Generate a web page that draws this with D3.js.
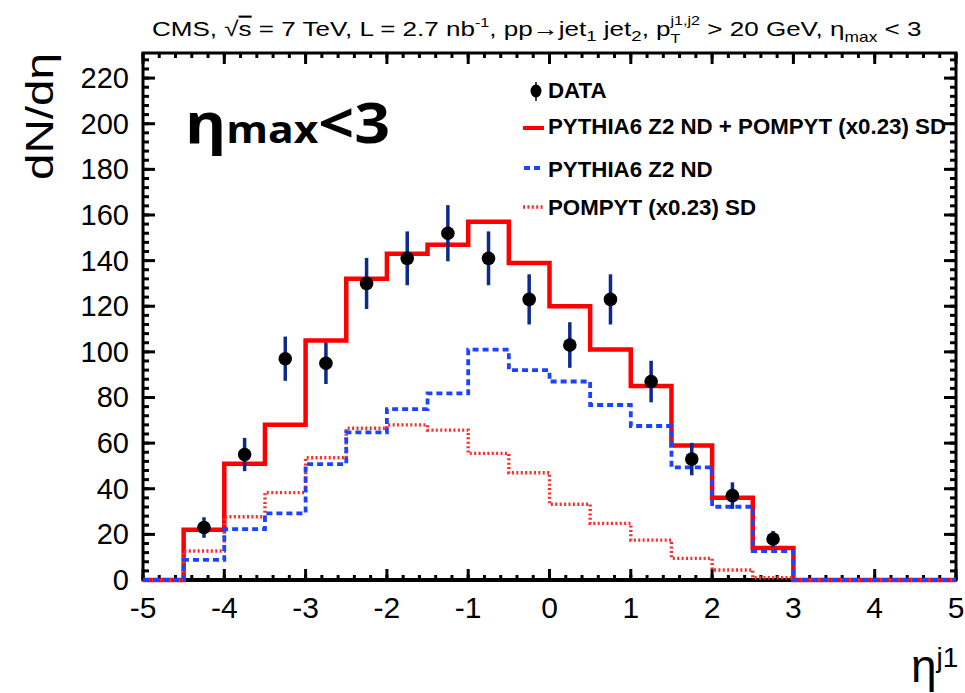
<!DOCTYPE html>
<html><head><meta charset="utf-8">
<script src="https://cdn.jsdelivr.net/npm/d3@7"></script>
<style>body{margin:0;background:#fff}svg{display:block}</style>
</head><body>
<svg id="c" width="965" height="693"></svg>
<script>
// ---- data ----
const binEdges = [-5,-4.5,-4,-3.5,-3,-2.5,-2,-1.5,-1,-0.5,0,0.5,1,1.5,2,2.5,3,3.5,4,4.5,5];
const totalVals = [0,22,51,68,105,132,143,147,157,139,120,101,85,59,36,14,0,0,0,0];
const ndVals    = [0,8.8,22.3,29.2,50.8,64.7,74.9,81.8,101,92,87,76.7,67.5,49.4,32.1,12.7,0,0,0,0];
const sdVals    = [0,12.7,27.7,38.3,53.6,66.5,68,65.7,55.5,47,33.2,24.8,17.5,9.5,4.4,1,0,0,0,0];
const dataEta   = [-4.25,-3.75,-3.25,-2.75,-2.25,-1.75,-1.25,-0.75,-0.25,0.25,0.75,1.25,1.75,2.25,2.75];
const dataVals  = [23,55,97,95,130,141,152,141,123,103,123,87,53,37,18];
const dataErrs  = [4.5,7.3,9.7,9.1,11.2,11.8,12.3,11.8,11,10,11,9.1,7.1,5.8,3.5];
const xTicks = [-5,-4,-3,-2,-1,0,1,2,3,4,5];
const yTicks = [0,20,40,60,80,100,120,140,160,180,200,220];
const legendLabels = ["DATA","PYTHIA6 Z2 ND + POMPYT (x0.23) SD","PYTHIA6 Z2 ND","POMPYT (x0.23) SD"];

const svg = d3.select("#c");
const L=143, R=956, T=53, B=580;
const x = d3.scaleLinear().domain([-5,5]).range([L,R]);
const y = d3.scaleLinear().domain([0,231]).range([B,T]);
const FONT = "'Liberation Sans', Arial, Helvetica, sans-serif";

// ---- frame & ticks (ROOT style, inward) ----
const g = svg.append("g");
const minorX = d3.range(-50,51,2).map(d=>d/10);
const minorY = d3.range(0,231,4);
function ticks(vals, len){
  vals.forEach(v=>{
    const xx=x(v);
    g.append("line").attr("x1",xx).attr("x2",xx).attr("y1",B).attr("y2",B-len).attr("stroke","#000").attr("stroke-width",3);
    g.append("line").attr("x1",xx).attr("x2",xx).attr("y1",T).attr("y2",T+len).attr("stroke","#000").attr("stroke-width",3);
  });
}
ticks(minorX,5);
ticks(xTicks,11);
function yt(vals,len){
  vals.forEach(v=>{
    const yy=y(v);
    g.append("line").attr("x1",L).attr("x2",L+len).attr("y1",yy).attr("y2",yy).attr("stroke","#000").attr("stroke-width",3);
    g.append("line").attr("x1",R).attr("x2",R-len).attr("y1",yy).attr("y2",yy).attr("stroke","#000").attr("stroke-width",3);
  });
}
yt(minorY,6);
yt(yTicks,12);
g.append("rect").attr("x",L).attr("y",T).attr("width",R-L).attr("height",B-T)
  .attr("fill","none").attr("stroke","#000").attr("stroke-width",3);
g.append("line").attr("x1",L).attr("x2",R).attr("y1",B).attr("y2",B).attr("stroke","#000").attr("stroke-width",4);

// tick labels
svg.append("g").selectAll("text").data(xTicks).join("text")
  .attr("x",d=>x(d)).attr("y",618).attr("text-anchor","middle")
  .attr("font-family",FONT).attr("font-size",30).text(d=>d);
svg.append("g").selectAll("text").data(yTicks).join("text")
  .attr("x",129).attr("y",d=>y(d)+10).attr("text-anchor","end")
  .attr("font-family",FONT).attr("font-size",29).text(d=>d);

// ---- histograms ----
function stepPts(vals){
  const pts=[];
  vals.forEach((v,i)=>{pts.push([binEdges[i],v]);pts.push([binEdges[i+1],v]);});
  return pts;
}
const line = d3.line().x(d=>x(d[0])).y(d=>y(d[1]));
svg.append("path").attr("d",line(stepPts(totalVals))).attr("fill","none")
  .attr("stroke","#ff0000").attr("stroke-width",4.5).attr("stroke-linejoin","miter");
svg.append("path").attr("d",line(stepPts(sdVals))).attr("fill","none")
  .attr("stroke","#ff2a2a").attr("stroke-width",3.4).attr("stroke-dasharray","2,2.4");
svg.append("path").attr("d",line(stepPts(ndVals))).attr("fill","none")
  .attr("stroke","#1a44ff").attr("stroke-width",3.8).attr("stroke-dasharray","6,4");

// ---- data points ----
const pts = dataEta.map((e,i)=>({e,v:dataVals[i],err:dataErrs[i]}));
svg.append("g").selectAll("line").data(pts).join("line")
  .attr("x1",d=>x(d.e)).attr("x2",d=>x(d.e)).attr("y1",d=>y(d.v-d.err)).attr("y2",d=>y(d.v+d.err))
  .attr("stroke","#0c2a8a").attr("stroke-width",3.5);
svg.append("g").selectAll("circle").data(pts).join("circle")
  .attr("cx",d=>x(d.e)).attr("cy",d=>y(d.v)).attr("r",6.8).attr("fill","#000");

// ---- legend ----
const lg = svg.append("g");
lg.append("line").attr("x1",536).attr("x2",536).attr("y1",82).attr("y2",101).attr("stroke","#000").attr("stroke-width",1.5);
lg.append("ellipse").attr("cx",536).attr("cy",91).attr("rx",5.5).attr("ry",6.5).attr("fill","#000");
lg.append("line").attr("x1",523).attr("x2",544).attr("y1",128).attr("y2",128).attr("stroke","#ff0000").attr("stroke-width",4);
lg.append("line").attr("x1",523).attr("x2",544).attr("y1",168).attr("y2",168).attr("stroke","#1a44ff").attr("stroke-width",3.8).attr("stroke-dasharray","6,4").attr("stroke-dashoffset",-1);
lg.append("line").attr("x1",523).attr("x2",544).attr("y1",207).attr("y2",207).attr("stroke","#ff2a2a").attr("stroke-width",3.4).attr("stroke-dasharray","2,2.4");
const lgY=[98,134,177,215];
const lt = lg.selectAll("text.l").data(legendLabels).join("text").attr("class","l")
  .attr("x",548).attr("y",(d,i)=>lgY[i]).attr("font-family",FONT).attr("font-weight","bold")
  .attr("font-size",22).text(d=>d);
const longLen = lt.nodes()[1].getComputedTextLength();
const fac = 398/longLen;
lt.each(function(){const n=this.getComputedTextLength(); d3.select(this).attr("textLength",n*fac).attr("lengthAdjust","spacingAndGlyphs");});

// ---- eta_max<3 label ----
const em = svg.append("text").attr("x",185).attr("y",143).attr("font-family","'Open Sans', 'DejaVu Sans', sans-serif").attr("font-weight","bold");
em.append("tspan").attr("font-size",56).text("η");
em.append("tspan").attr("font-size",38).text("max");
em.append("tspan").attr("font-size",56).text("<3");
em.attr("textLength",205).attr("lengthAdjust","spacingAndGlyphs");

// ---- axis titles ----
svg.append("text").attr("transform","translate(53,53) rotate(-90)").attr("text-anchor","end")
  .attr("font-family",FONT).attr("font-size",38).attr("textLength",127).attr("lengthAdjust","spacingAndGlyphs").text("dN/dη");
const xt = svg.append("text").attr("x",911).attr("y",682).attr("font-family",FONT);
xt.append("tspan").attr("font-size",46).text("η");
xt.append("tspan").attr("font-size",28).attr("dy",-15).text("j1");

// ---- title ----
const tg = svg.append("g");
const tt = tg.append("text").attr("x",0).attr("y",0).attr("font-family",FONT).attr("font-size",21);
tt.append("tspan").text("CMS,  √");
tt.append("tspan").attr("text-decoration","overline").text("s");
tt.append("tspan").text(" = 7 TeV,  L = 2.7 nb");
tt.append("tspan").attr("font-size",13).attr("dy",-9).text("-1");
tt.append("tspan").attr("dy",9).text(",  pp→jet");
tt.append("tspan").attr("font-size",15).attr("dy",5).text("1");
tt.append("tspan").attr("dy",-5).text(" jet");
tt.append("tspan").attr("font-size",15).attr("dy",5).text("2");
tt.append("tspan").attr("dy",-5).text(",  p");
tt.append("tspan").attr("font-size",13).attr("dy",7).text("T");
tt.append("tspan").attr("font-size",13).attr("dx",-8).attr("dy",-18).text("j1,j2");
tt.append("tspan").attr("dy",11).text(" > 20 GeV, η");
tt.append("tspan").attr("font-size",14).attr("dy",6).text("max");
tt.append("tspan").attr("dy",-6).text(" < 3");
const tw = tt.node().getComputedTextLength();
tg.attr("transform",`translate(152,36) scale(${780/tw},1)`);
</script>
</body></html>
